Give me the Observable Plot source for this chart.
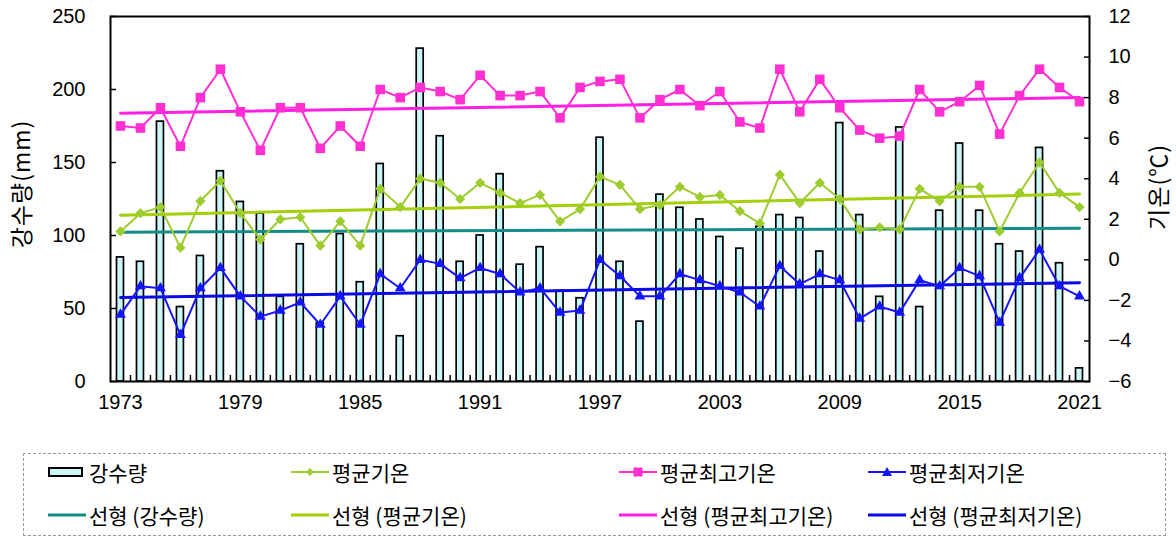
<!DOCTYPE html>
<html>
<head>
<meta charset="utf-8">
<script src="https://cdn.jsdelivr.net/npm/d3@7"></script>
<script src="https://cdn.jsdelivr.net/npm/@observablehq/plot@0.6"></script>
<style>
  body { margin: 0; background: #fff; font-family: "Liberation Sans", "Noto Sans CJK KR", sans-serif; }
  #wrap { position: relative; width: 1176px; height: 538px; overflow: hidden; }
  #chart { position: absolute; left: 0; top: 0; }
  .axis-title { position: absolute; transform: translate(-50%, -50%) rotate(-90deg);
                font-family: "Noto Sans CJK KR", "Liberation Sans", sans-serif;
                font-size: 23px; letter-spacing: 1px; white-space: nowrap; color: #000; line-height: 1; }
  #legend { position: absolute; left: 23px; top: 453px; width: 1143px; height: 83px;
            border: 1px dashed #9a9a9a; box-sizing: border-box; }
  .item { position: absolute; height: 28px; display: flex; align-items: center;
          font-size: 21px; color: #000; white-space: nowrap;
          font-family: "Noto Sans CJK KR", "Liberation Sans", sans-serif; }
  .item svg { display: block; margin-right: 3px; }
</style>
</head>
<body>
<div id="wrap">
  <div id="chart"></div>
  <div class="axis-title" style="left:20px; top:184px;">강수량(mm)</div>
  <div class="axis-title" style="left:1157px; top:187px;">기온(℃)</div>
  <div id="legend"></div>
</div>
<script>
// Annual series, 1973–2021
const years = [
  1973, 1974, 1975, 1976, 1977, 1978, 1979, 1980, 1981, 1982,
  1983, 1984, 1985, 1986, 1987, 1988, 1989, 1990, 1991, 1992,
  1993, 1994, 1995, 1996, 1997, 1998, 1999, 2000, 2001, 2002,
  2003, 2004, 2005, 2006, 2007, 2008, 2009, 2010, 2011, 2012,
  2013, 2014, 2015, 2016, 2017, 2018, 2019, 2020, 2021
];

// 강수량 (mm)
const precipitation = [
  85, 82, 178, 51, 86, 144, 123, 115, 58, 94,
  40, 101, 68, 149, 31, 228, 168, 82, 100, 142,
  80, 92, 62, 57, 167, 82, 41, 128, 119, 111,
  99, 91, 106, 114, 112, 89, 177, 114, 58, 174,
  51, 117, 163, 117, 94, 89, 160, 81, 9
];

// 평균기온 (℃)
const avgTemp = [
  1.4, 2.3, 2.6, 0.6, 2.9, 3.9, 2.3, 1.0, 2.0, 2.1,
  0.7, 1.9, 0.7, 3.5, 2.6, 4.0, 3.8, 3.0, 3.8, 3.3,
  2.8, 3.2, 1.9, 2.5, 4.1, 3.7, 2.5, 2.7, 3.6, 3.1,
  3.2, 2.4, 1.8, 4.2, 2.8, 3.8, 3.0, 1.5, 1.6, 1.5,
  3.5, 2.9, 3.6, 3.6, 1.4, 3.3, 4.8, 3.3, 2.6
];

// 평균최고기온 (℃)
const maxTemp = [
  6.6, 6.5, 7.5, 5.6, 8.0, 9.4, 7.3, 5.4, 7.5, 7.5,
  5.5, 6.6, 5.6, 8.4, 8.0, 8.5, 8.3, 7.9, 9.1, 8.1,
  8.1, 8.3, 7.0, 8.5, 8.8, 8.9, 7.0, 7.9, 8.4, 7.6,
  8.3, 6.8, 6.5, 9.4, 7.3, 8.9, 7.5, 6.4, 6.0, 6.1,
  8.4, 7.3, 7.8, 8.6, 6.2, 8.1, 9.4, 8.5, 7.8
];

// 평균최저기온 (℃)
const minTemp = [
  -2.7, -1.3, -1.4, -3.7, -1.4, -0.4, -1.8, -2.8, -2.5, -2.1,
  -3.2, -1.8, -3.2, -0.7, -1.4, 0.0, -0.2, -0.9, -0.4, -0.7,
  -1.6, -1.4, -2.6, -2.5, 0.0, -0.8, -1.8, -1.8, -0.7, -1.0,
  -1.3, -1.6, -2.3, -0.3, -1.2, -0.7, -1.0, -2.9, -2.3, -2.6,
  -1.0, -1.3, -0.4, -0.8, -3.1, -0.9, 0.5, -1.3, -1.8
];

// Axis ticks
const yearTicks = [1973, 1979, 1985, 1991, 1997, 2003, 2009, 2015, 2021];
const precipTicks = [0, 50, 100, 150, 200, 250];
const tempTicks = [-6, -4, -2, 0, 2, 4, 6, 8, 10, 12];

const precipDomain = [0, 250];
const tempDomain = [-6, 12];

// Colours
const C = {
  barFill: "#cdf6f6",
  avg: "#9dcc2f", avgTrend: "#a4cf0a",
  max: "#ff2fd2", maxTrend: "#ff1fe6",
  min: "#1414ff", minTrend: "#0a0ae6",
  precipTrend: "#138c86"
};

// The temperature axis (right) shares the vertical scale with precipitation (left)
const k = (precipDomain[1] - precipDomain[0]) / (tempDomain[1] - tempDomain[0]);
const tempToY = t => (t - tempDomain[0]) * k + precipDomain[0];
const yToTemp = v => (v - precipDomain[0]) / k + tempDomain[0];
const fmtTemp = v => {
  const t = Math.round(yToTemp(v));
  return t < 0 ? "\u2212" + (-t) : String(t);
};

const rows = years.map((year, i) => ({
  year,
  precip: precipitation[i],
  avg: avgTemp[i],
  max: maxTemp[i],
  min: minTemp[i]
}));

const yearBoundaries = years.slice(1).map(y => y - 0.5);
const font = `"Liberation Sans", "Noto Sans CJK KR", sans-serif`;

const chart = Plot.plot({
  width: 1176,
  height: 440,
  marginLeft: 110,
  marginRight: 87,
  marginTop: 16,
  marginBottom: 59,
  style: { fontFamily: font, fontSize: "20px", color: "#000", background: "transparent", overflow: "visible" },
  x: { type: "linear", domain: [years[0] - 0.5, years[years.length - 1] + 0.5] },
  y: { domain: precipDomain },
  marks: [
    // precipitation bars
    Plot.rectY(rows, {
      x1: d => d.year - 0.5, x2: d => d.year + 0.5, y: "precip",
      insetLeft: 6.5, insetRight: 6.5,
      fill: C.barFill, stroke: "#000", strokeWidth: 1.7
    }),
    // linear trends
    Plot.linearRegressionY(rows, { x: "year", y: "precip", stroke: C.precipTrend, strokeWidth: 3, ci: 0 }),
    Plot.linearRegressionY(rows, { x: "year", y: d => tempToY(d.avg), stroke: C.avgTrend, strokeWidth: 3, ci: 0 }),
    Plot.linearRegressionY(rows, { x: "year", y: d => tempToY(d.max), stroke: C.maxTrend, strokeWidth: 3, ci: 0 }),
    Plot.linearRegressionY(rows, { x: "year", y: d => tempToY(d.min), stroke: C.minTrend, strokeWidth: 3, ci: 0 }),
    // temperature series
    Plot.line(rows, { x: "year", y: d => tempToY(d.avg), stroke: C.avg, strokeWidth: 2 }),
    Plot.dot(rows, { x: "year", y: d => tempToY(d.avg), symbol: "diamond2", r: 4.6, fill: C.avg, stroke: "none" }),
    Plot.line(rows, { x: "year", y: d => tempToY(d.max), stroke: C.max, strokeWidth: 2 }),
    Plot.dot(rows, { x: "year", y: d => tempToY(d.max), symbol: "square", r: 5.4, fill: C.max, stroke: "none" }),
    Plot.line(rows, { x: "year", y: d => tempToY(d.min), stroke: C.min, strokeWidth: 2 }),
    Plot.dot(rows, { x: "year", y: d => tempToY(d.min), symbol: "triangle2", r: 5.2, fill: C.min, stroke: "none" }),
    // left axis (강수량)
    Plot.axisY({ anchor: "left", ticks: precipTicks, tickSize: 0, tickPadding: 25, label: null, fontSize: 20 }),
    Plot.axisY({ anchor: "left", ticks: precipTicks, tickSize: 6, dx: 6, tickFormat: () => "", label: null, strokeWidth: 1.5 }),
    // right axis (기온)
    Plot.axisY({ anchor: "right", ticks: tempTicks.map(tempToY), tickFormat: fmtTemp, tickSize: 0, tickPadding: 19, label: null, fontSize: 20 }),
    Plot.axisY({ anchor: "right", ticks: tempTicks.map(tempToY), tickSize: 6, dx: -6, tickFormat: () => "", label: null, strokeWidth: 1.5 }),
    // bottom axis
    Plot.axisX({ ticks: yearTicks, tickSize: 0, tickPadding: 13, tickFormat: d => String(d), label: null, fontSize: 20 }),
    Plot.axisX({ ticks: yearBoundaries, tickSize: 6, dy: -6, tickFormat: () => "", label: null, strokeWidth: 1.5 }),
    Plot.frame({ stroke: "#000", strokeWidth: 2 })
  ]
});
document.getElementById("chart").appendChild(chart);

// Legend
const legendItems = [
  { label: "강수량", kind: "bar", color: C.barFill, col: 0, row: 0 },
  { label: "평균기온", kind: "diamond", color: C.avg, col: 1, row: 0 },
  { label: "평균최고기온", kind: "square", color: C.max, col: 2, row: 0 },
  { label: "평균최저기온", kind: "triangle", color: C.min, col: 3, row: 0 },
  { label: "선형 (강수량)", kind: "line", color: C.precipTrend, col: 0, row: 1 },
  { label: "선형 (평균기온)", kind: "line", color: C.avgTrend, col: 1, row: 1 },
  { label: "선형 (평균최고기온)", kind: "line", color: C.maxTrend, col: 2, row: 1 },
  { label: "선형 (평균최저기온)", kind: "line", color: C.minTrend, col: 3, row: 1 }
];
const colLeft = [24, 267, 595, 844];
const rowCenter = [18, 61];

function swatch(item) {
  const w = 38, h = 14, cy = 7, cx = 19;
  let inner = "";
  if (item.kind === "bar") {
    inner = `<rect x="1" y="3" width="33" height="8" fill="${item.color}" stroke="#000" stroke-width="2"/>`;
  } else {
    inner = `<line x1="0" x2="${w}" y1="${cy}" y2="${cy}" stroke="${item.color}" stroke-width="${item.kind === "line" ? 3 : 2}"/>`;
    if (item.kind === "diamond") inner += `<path d="M${cx},${cy - 4}L${cx + 4},${cy}L${cx},${cy + 4}L${cx - 4},${cy}Z" fill="${item.color}"/>`;
    if (item.kind === "square") inner += `<rect x="${cx - 4.5}" y="${cy - 4.5}" width="9" height="9" fill="${item.color}"/>`;
    if (item.kind === "triangle") inner += `<path d="M${cx},${cy - 5}L${cx + 5},${cy + 4}L${cx - 5},${cy + 4}Z" fill="${item.color}"/>`;
  }
  return `<svg width="${w}" height="${h}">${inner}</svg>`;
}

const legend = document.getElementById("legend");
for (const item of legendItems) {
  const div = document.createElement("div");
  div.className = "item";
  div.style.left = colLeft[item.col] + "px";
  div.style.top = (rowCenter[item.row] - 14) + "px";
  div.innerHTML = swatch(item) + `<span>${item.label}</span>`;
  legend.appendChild(div);
}
</script>
</body>
</html>
